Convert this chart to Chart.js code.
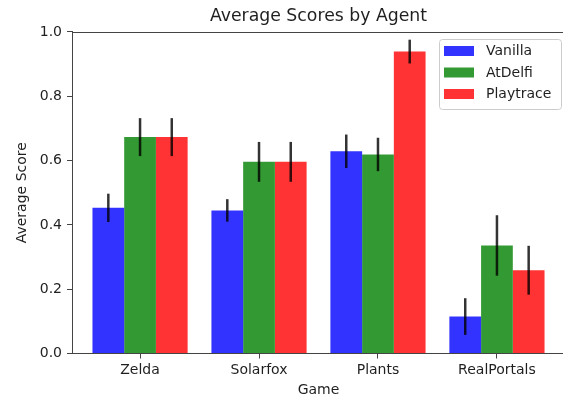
<!DOCTYPE html>
<html><head><meta charset="utf-8">
<script src="https://cdn.jsdelivr.net/npm/chart.js@4/dist/chart.umd.min.js"></script>
<style>html,body{margin:0;padding:0;overflow:hidden;background:#fff;width:563px;height:400px}</style>
</head><body>
<canvas id="c" width="637" height="400" style="display:block;width:637px;height:400px"></canvas>
<script>
const categories = ['Zelda', 'Solarfox', 'Plants', 'RealPortals'];
const seriesNames = ['Vanilla', 'AtDelfi', 'Playtrace'];
const vanilla = [0.453, 0.445, 0.629, 0.115];
const atdelfi = [0.673, 0.596, 0.619, 0.336];
const playtrace = [0.673, 0.596, 0.939, 0.259];
const vanillaErr = [0.044, 0.035, 0.052, 0.057];
const atdelfiErr = [0.059, 0.062, 0.052, 0.094];
const playtraceErr = [0.059, 0.062, 0.037, 0.076];
const yTicks = [0, 0.2, 0.4, 0.6, 0.8, 1.0];

const seriesValues = [vanilla, atdelfi, playtrace];
const seriesErrs = [vanillaErr, atdelfiErr, playtraceErr];
const seriesColors = ['rgba(0,0,255,0.8)', 'rgba(0,128,0,0.8)', 'rgba(255,0,0,0.8)'];

const FONT = {family: '"DejaVu Sans", sans-serif', size: 14, lineHeight: 1.2};
const TXT = '#1f1f1f';
const AXC = '#444444';

const datasets = seriesNames.map((name, s) => ({
  label: name,
  data: seriesValues[s].map((v, i) => ({x: i, y: v})),
  errors: seriesErrs[s],
  backgroundColor: seriesColors[s],
  borderWidth: 0,
  categoryPercentage: 0.8,
  barPercentage: 1.0
}));

const errorBars = {
  id: 'errorBars',
  afterDatasetsDraw(chart) {
    const ctx = chart.ctx, ys = chart.scales.y;
    ctx.save();
    ctx.strokeStyle = 'rgba(0,0,0,0.8)';
    ctx.lineWidth = 2.5;
    chart.data.datasets.forEach((ds, di) => {
      const meta = chart.getDatasetMeta(di);
      meta.data.forEach((bar, i) => {
        const v = ds.data[i].y, e = ds.errors[i];
        ctx.beginPath();
        ctx.moveTo(bar.x, ys.getPixelForValue(v - e));
        ctx.lineTo(bar.x, ys.getPixelForValue(v + e));
        ctx.stroke();
      });
    });
    ctx.restore();
  }
};

const frame = {
  id: 'frame',
  afterDraw(chart) {
    const ctx = chart.ctx, a = chart.chartArea;
    ctx.save();
    ctx.strokeStyle = AXC;
    ctx.lineWidth = 1;
    ctx.beginPath();
    ctx.moveTo(a.left, Math.round(a.top) + 0.5);
    ctx.lineTo(a.right, Math.round(a.top) + 0.5);
    ctx.moveTo(Math.round(a.right) + 0.5, a.top);
    ctx.lineTo(Math.round(a.right) + 0.5, a.bottom);
    ctx.stroke();
    // legend
    const x0 = 439.5, y0 = 39.5, w = 122, h = 70, r = 3;
    ctx.beginPath();
    ctx.moveTo(x0 + r, y0);
    ctx.lineTo(x0 + w - r, y0); ctx.arcTo(x0 + w, y0, x0 + w, y0 + r, r);
    ctx.lineTo(x0 + w, y0 + h - r); ctx.arcTo(x0 + w, y0 + h, x0 + w - r, y0 + h, r);
    ctx.lineTo(x0 + r, y0 + h); ctx.arcTo(x0, y0 + h, x0, y0 + h - r, r);
    ctx.lineTo(x0, y0 + r); ctx.arcTo(x0, y0, x0 + r, y0, r);
    ctx.closePath();
    ctx.fillStyle = 'rgba(255,255,255,0.8)';
    ctx.fill();
    ctx.strokeStyle = '#cccccc';
    ctx.stroke();
    ctx.font = '14px "DejaVu Sans", sans-serif';
    ctx.textBaseline = 'middle';
    ctx.textAlign = 'left';
    chart.data.datasets.forEach((ds, i) => {
      const yc = 51 + i * 21.5;
      ctx.fillStyle = ds.backgroundColor;
      ctx.fillRect(444, yc - 5, 30, 10);
      ctx.fillStyle = TXT;
      ctx.fillText(ds.label, 486, yc + 0.5);
    });
    ctx.restore();
  }
};

new Chart(document.getElementById('c'), {
  type: 'bar',
  data: {datasets},
  options: {
    responsive: false,
    animation: false,
    layout: {padding: 0},
    plugins: {
      legend: {display: false},
      tooltip: {enabled: false},
      title: {display: true, text: 'Average Scores by Agent', color: TXT,
        font: {family: FONT.family, size: 17.3, weight: 'normal', lineHeight: 1.2},
        padding: {top: 5.7, bottom: 5.5}}
    },
    scales: {
      x: {
        type: 'linear', min: -0.572, max: 3.572, offset: false,
        afterBuildTicks: s => { s.ticks = categories.map((c, i) => ({value: i})); },
        ticks: {callback: v => categories[v] ?? '', font: FONT, color: TXT, padding: 3, autoSkip: false, maxRotation: 0},
        grid: {offset: false, drawOnChartArea: false, drawTicks: true, tickLength: 5, color: AXC},
        border: {display: true, color: AXC, width: 1},
        title: {display: true, text: 'Game', font: FONT, color: TXT, padding: {top: 0, bottom: 1}},
        afterFit: s => { s.height = 46.5; }
      },
      y: {
        min: 0, max: 1,
        afterBuildTicks: s => { s.ticks = yTicks.map(v => ({value: v})); },
        ticks: {callback: v => Number(v).toFixed(1), font: FONT, color: TXT, padding: 5},
        grid: {drawOnChartArea: false, drawTicks: true, tickLength: 5, color: AXC},
        border: {display: true, color: AXC, width: 1},
        title: {display: true, text: 'Average Score', font: FONT, color: TXT, padding: {top: 14, bottom: 0}},
        afterFit: s => { s.width = 72; }
      },
      yPad: {
        position: 'right', min: 0, max: 1, display: true,
        ticks: {display: false},
        grid: {display: false, drawTicks: false},
        border: {display: false},
        afterFit: s => { s.width = 72; }
      }
    }
  },
  plugins: [errorBars, frame]
});
</script>
</body></html>
